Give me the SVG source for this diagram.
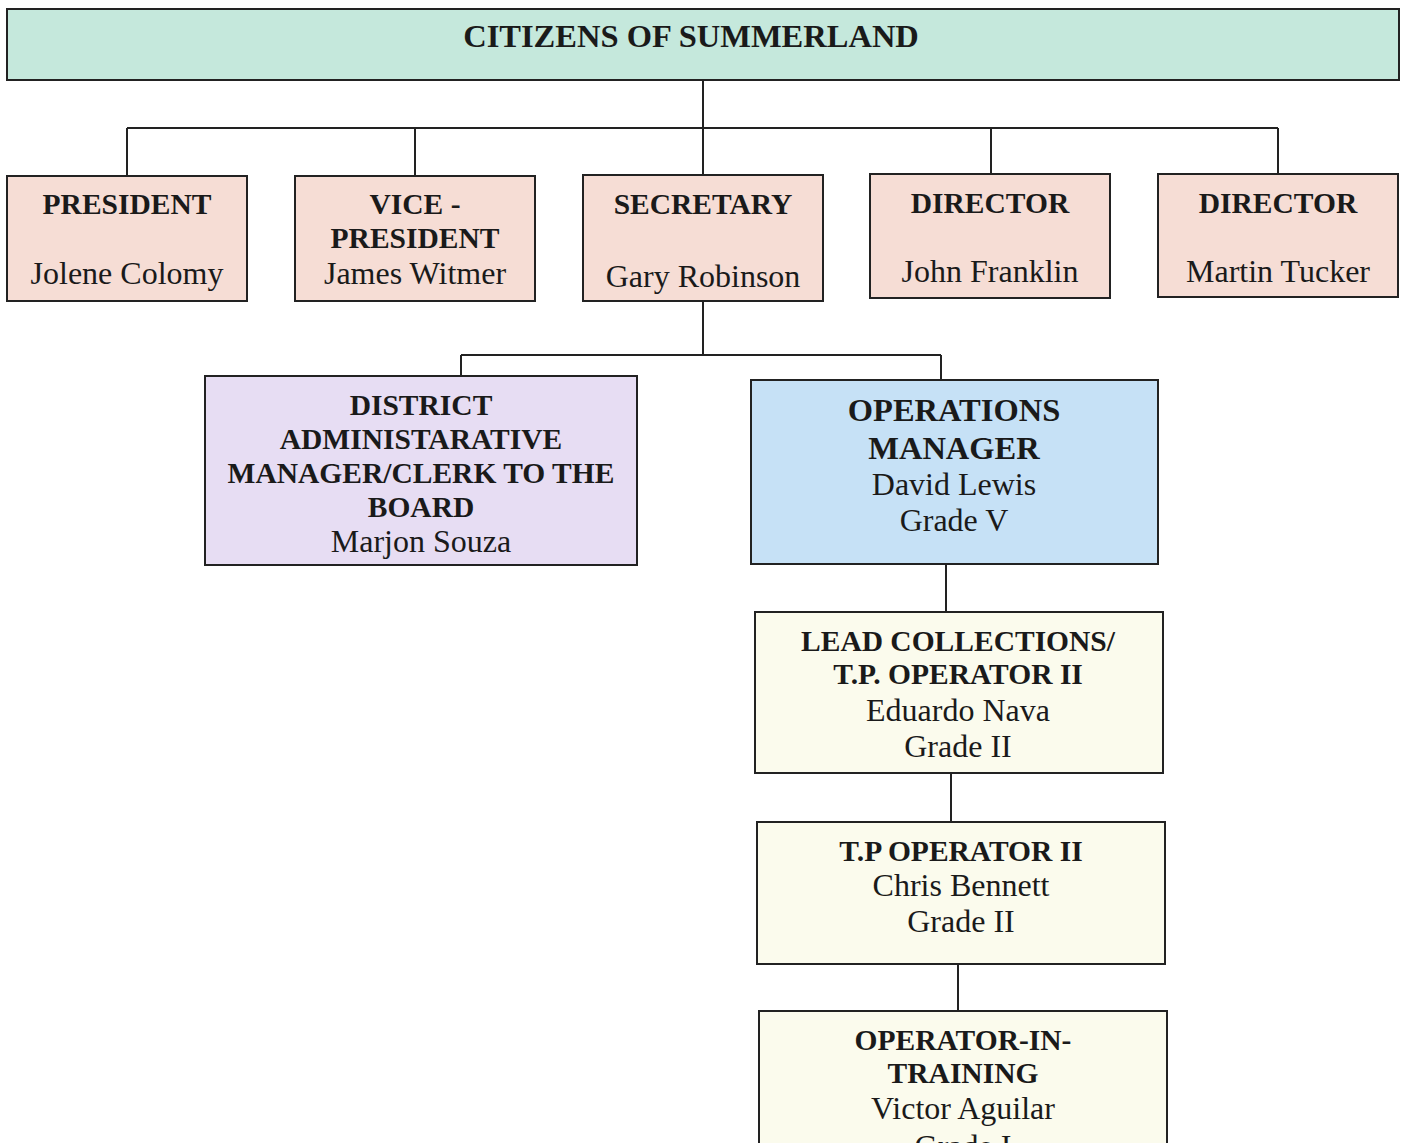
<svg xmlns="http://www.w3.org/2000/svg" width="1407" height="1143" viewBox="0 0 1407 1143">
<style>
.box{stroke:#222;stroke-width:2}
.t{font-family:"Liberation Serif","Times New Roman",serif;fill:#1a1a1a;text-anchor:middle}
.b{font-weight:bold;font-size:29.5px}
.r{font-size:32px}
.big{font-size:32.5px}
.conn{stroke:#222;stroke-width:2;fill:none}
</style>
<rect width="1407" height="1143" fill="#ffffff"/>
<g id="connectors">
<path class="conn" d="M703 80V175M127 128H1278M127 128V176M415 128V176M991 128V174M1278 128V174"/>
<path class="conn" d="M703 301V355M461 355H941M461 355V376M941 355V380"/>
<path class="conn" d="M946 564V612M951 773V822M958 964V1011"/>
</g>
<g id="citizens">
<rect class="box" x="7" y="9" width="1392" height="71" fill="#c5e8dc"/>
<text class="t b" x="691" y="47" style="font-size:32.5px">CITIZENS OF SUMMERLAND</text>
</g>
<g id="president">
<rect class="box" x="7" y="176" width="240" height="125" fill="#f6ddd5"/>
<text class="t b" x="127" y="214">PRESIDENT</text>
<text class="t r" x="127" y="284">Jolene Colomy</text>
</g>
<g id="vice-president">
<rect class="box" x="295" y="176" width="240" height="125" fill="#f6ddd5"/>
<text class="t b" x="415" y="214">VICE -</text>
<text class="t b" x="415" y="248">PRESIDENT</text>
<text class="t r" x="415" y="284">James Witmer</text>
</g>
<g id="secretary">
<rect class="box" x="583" y="175" width="240" height="126" fill="#f6ddd5"/>
<text class="t b" x="703" y="214">SECRETARY</text>
<text class="t r" x="703" y="287">Gary Robinson</text>
</g>
<g id="director1">
<rect class="box" x="870" y="174" width="240" height="124" fill="#f6ddd5"/>
<text class="t b" x="990" y="213">DIRECTOR</text>
<text class="t r" x="990" y="282">John Franklin</text>
</g>
<g id="director2">
<rect class="box" x="1158" y="174" width="240" height="123" fill="#f6ddd5"/>
<text class="t b" x="1278" y="213">DIRECTOR</text>
<text class="t r" x="1278" y="282">Martin Tucker</text>
</g>
<g id="district-admin">
<rect class="box" x="205" y="376" width="432" height="189" fill="#e7ddf3"/>
<text class="t b" x="421" y="415">DISTRICT</text>
<text class="t b" x="421" y="449">ADMINISTARATIVE</text>
<text class="t b" x="421" y="483">MANAGER/CLERK TO THE</text>
<text class="t b" x="421" y="517">BOARD</text>
<text class="t r" x="421" y="552">Marjon Souza</text>
</g>
<g id="operations-manager">
<rect class="box" x="751" y="380" width="407" height="184" fill="#c6e1f6"/>
<text class="t b big" x="954" y="421">OPERATIONS</text>
<text class="t b big" x="954" y="459">MANAGER</text>
<text class="t r" x="954" y="495">David Lewis</text>
<text class="t r" x="954" y="531">Grade V</text>
</g>
<g id="lead-collections">
<rect class="box" x="755" y="612" width="408" height="161" fill="#fbfbed"/>
<text class="t b" x="958" y="651">LEAD COLLECTIONS/</text>
<text class="t b" x="958" y="684">T.P. OPERATOR II</text>
<text class="t r" x="958" y="721">Eduardo Nava</text>
<text class="t r" x="958" y="757">Grade II</text>
</g>
<g id="tp-operator">
<rect class="box" x="757" y="822" width="408" height="142" fill="#fbfbed"/>
<text class="t b" x="961" y="861">T.P OPERATOR II</text>
<text class="t r" x="961" y="896">Chris Bennett</text>
<text class="t r" x="961" y="932">Grade II</text>
</g>
<g id="operator-in-training">
<rect class="box" x="759" y="1011" width="408" height="150" fill="#fbfbed"/>
<text class="t b" x="963" y="1050">OPERATOR-IN-</text>
<text class="t b" x="963" y="1083">TRAINING</text>
<text class="t r" x="963" y="1119">Victor Aguilar</text>
<text class="t r" x="963" y="1157">Grade I</text>
</g>
</svg>
